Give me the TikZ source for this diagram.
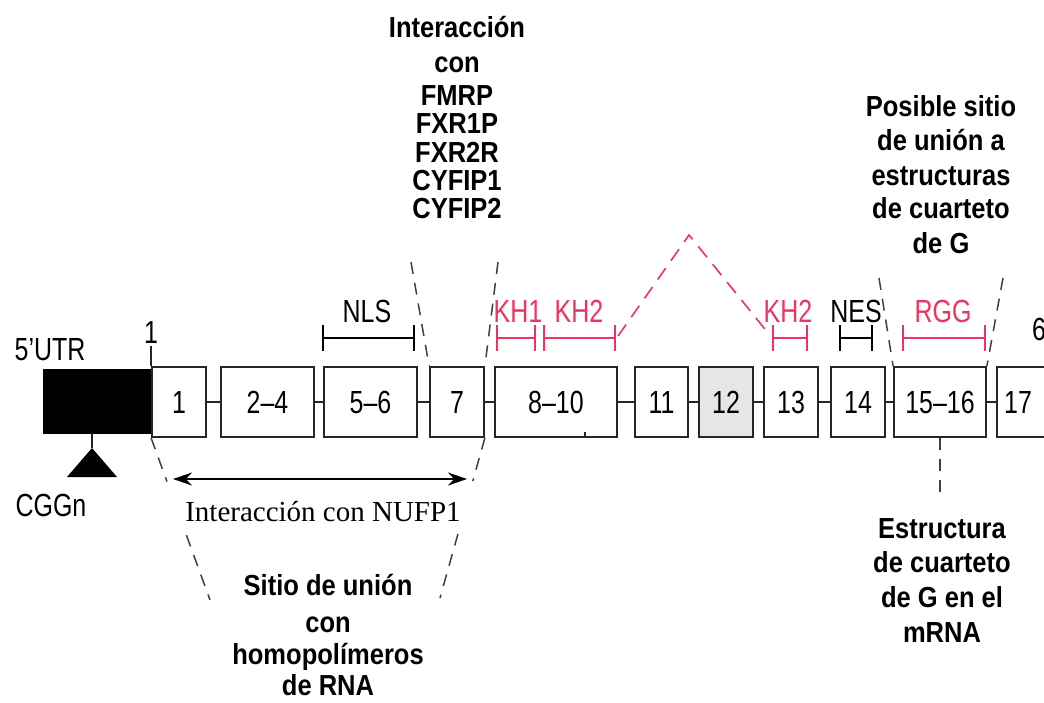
\documentclass[tikz,border=0pt]{standalone}
\usepackage{fontspec}
\setmainfont{Liberation Sans}
\newfontfamily\serifface{Liberation Serif}
\usetikzlibrary{arrows.meta,calc}
\definecolor{khred}{RGB}{236,52,96}
\definecolor{exgray}{RGB}{230,230,230}
\newcommand\cnd[1]{\scalebox{0.78}[1]{#1}}
\newcommand\bld[1]{\scalebox{0.88}[1]{#1}}
\tikzset{
 exon/.style={draw=black!85, line width=1.8pt, fill=white, minimum height=70pt, inner sep=0pt, font=\fontsize{32}{32}\selectfont},
 link/.style={draw=black!85, line width=1.8pt},
 dom/.style={line width=1.6pt, {Bar[width=26pt,line width=1.6pt]}-{Bar[width=26pt,line width=1.6pt]}},
 lab/.style={font=\fontsize{32}{32}\selectfont, inner sep=0pt},
 note/.style={font=\fontsize{29}{29}\selectfont\bfseries, inner sep=0pt, anchor=base},
 guide/.style={line width=1.5pt, dash pattern=on 12pt off 9pt, black!75},
 rguide/.style={line width=1.6pt, dash pattern=on 14pt off 9pt, khred},
}
\begin{document}
\begin{tikzpicture}[x=1pt,y=-1pt]
\useasboundingbox (0,0) rectangle (1044,702);
\clip (0,0) rectangle (1044,702);
\fill[white] (0,0) rectangle (1044,702);

% 5'UTR block
\node[fill=black, draw=black, minimum width=109pt, minimum height=64pt, inner sep=0pt] (utr) at (97.5,401) {};
\node[lab] (utrlab) at (50,350) {\cnd{5’UTR}};
\coordinate (apex) at (92,448);
\draw[link] (utr.south -| apex) -- (apex);
\fill (apex) -- (117,477) -- (67,477) -- cycle;
\node[lab] (cgg) at (51,505) {\cnd{CGGn}};

% exons
\node[exon, minimum width=54pt] (e1) at (179,402) {\cnd{1}};
\node[exon, minimum width=93pt] (e24) at (267.5,402) {\cnd{2–4}};
\node[exon, minimum width=93pt] (e56) at (370.5,402) {\cnd{5–6}};
\node[exon, minimum width=54pt] (e7) at (457,402) {\cnd{7}};
\node[exon, minimum width=122pt] (e810) at (556,402) {\cnd{8–10}};
\node[exon, minimum width=53pt] (e11) at (661.5,402) {\cnd{11}};
\node[exon, minimum width=54pt, fill=exgray] (e12) at (726,402) {\cnd{12}};
\node[exon, minimum width=54pt] (e13) at (791,402) {\cnd{13}};
\node[exon, minimum width=54pt] (e14) at (858,402) {\cnd{14}};
\node[exon, minimum width=92pt] (e1516) at (940,402) {\cnd{15–16}};
\node[exon, minimum width=60pt] (e17) at (1027,402) {};
\node[lab] (l17) at (1018,402) {\cnd{17}};

\draw[link] (e1.east) -- (e24.west);
\draw[link] (e24.east) -- (e56.west);
\draw[link] (e56.east) -- (e7.west);
\draw[link] (e7.east) -- (e810.west);
\draw[link] (e810.east) -- (e11.west);
\draw[link] (e11.east) -- (e12.west);
\draw[link] (e12.east) -- (e13.west);
\draw[link] (e13.east) -- (e14.west);
\draw[link] (e14.east) -- (e1516.west);
\draw[link] (e1516.east) -- (e17.west);
\draw[link] (585,432) -- (585,437);

% start tick
\draw[link] (e1.north west) -- ++(0,-20);
\node[lab] (one) at (151,332) {\cnd{1}};
\node[lab, anchor=base west] (six) at (1032,340) {\cnd{6}};

% domains
\draw[dom] (322,338) -- (415,338);
\node[lab] (nls) at (367,311) {\cnd{NLS}};
\draw[dom, khred] (496,338) -- (536,338);
\node[lab, text=khred] (kh1) at (518,311) {\cnd{KH1}};
\draw[dom, khred] (543,338) -- (616,338);
\node[lab, text=khred] (kh2) at (579,311) {\cnd{KH2}};
\draw[dom, khred] (772,338) -- (808,338);
\node[lab, text=khred] (kh2b) at (788,311) {\cnd{KH2}};
\draw[dom] (839,338) -- (873,338);
\node[lab] (nes) at (856,311) {\cnd{NES}};
\draw[dom, khred] (902,338) -- (986,338);
\node[lab, text=khred] (rgg) at (943,311) {\cnd{RGG}};

% red splice
\coordinate (rs) at (618,336);
\coordinate (rt) at (689,235);
\coordinate (re) at (768,333);
\draw[rguide] (rs) -- (rt) -- (re);

% guides for exon 7
\coordinate (g7l) at (411,262);
\coordinate (g7r) at (498,262);
\draw[guide] (g7l) -- (e7.north west);
\draw[guide] (g7r) -- (e7.north east);

% NUFP1 / homopolymer guides
\coordinate (bl) at (210,600);
\coordinate (br) at (440,598);
\draw[guide] (e1.south west) -- ($(e1.south west)!0.27!(bl)$);
\draw[guide] ($(e1.south west)!0.6!(bl)$) -- (bl);
\draw[guide] (e7.south east) -- ($(e7.south east)!0.27!(br)$);
\draw[guide] ($(e7.south east)!0.6!(br)$) -- (br);
\coordinate (na) at (173,479);
\coordinate (nb) at (467,479);
\draw[line width=2pt, {Stealth[length=19pt,width=13pt]}-{Stealth[length=19pt,width=13pt]}] (na) -- (nb);
\node[inner sep=0pt, font=\serifface\fontsize{29}{29}\selectfont] (nufp) at (323,512) {Interacción con NUFP1};

% 15-16 guides
\coordinate (g15l) at (879,278);
\coordinate (g15r) at (1003,278);
\draw[guide] (g15l) -- (e1516.north west);
\draw[guide] (g15r) -- (e1516.north east);
\coordinate (g15b) at (940,500);
\draw[guide] (e1516.south) -- (g15b);

% top label
\node[note] (t1) at (457,37) {\bld{Interacción}};
\node[note] (t2) at (457,72) {\bld{con}};
\node[note] (t3) at (457,105) {\bld{FMRP}};
\node[note] (t4) at (457,133) {\bld{FXR1P}};
\node[note] (t5) at (457,162) {\bld{FXR2R}};
\node[note] (t6) at (457,190) {\bld{CYFIP1}};
\node[note] (t7) at (457,218) {\bld{CYFIP2}};

% right top label
\node[note] (p1) at (941,116) {\bld{Posible sitio}};
\node[note] (p2) at (941,150) {\bld{de unión a}};
\node[note] (p3) at (941,185) {\bld{estructuras}};
\node[note] (p4) at (941,218) {\bld{de cuarteto}};
\node[note] (p5) at (941,253) {\bld{de G}};

% right bottom label
\node[note] (s1) at (942,538) {\bld{Estructura}};
\node[note] (s2) at (942,572) {\bld{de cuarteto}};
\node[note] (s3) at (942,607) {\bld{de G en el}};
\node[note] (s4) at (942,642) {\bld{mRNA}};

% bottom left label
\node[note] (h1) at (328,595) {\bld{Sitio de unión}};
\node[note] (h2) at (328,632) {\bld{con}};
\node[note] (h3) at (328,664) {\bld{homopolímeros}};
\node[note] (h4) at (328,695) {\bld{de RNA}};
\end{tikzpicture}
\end{document}
